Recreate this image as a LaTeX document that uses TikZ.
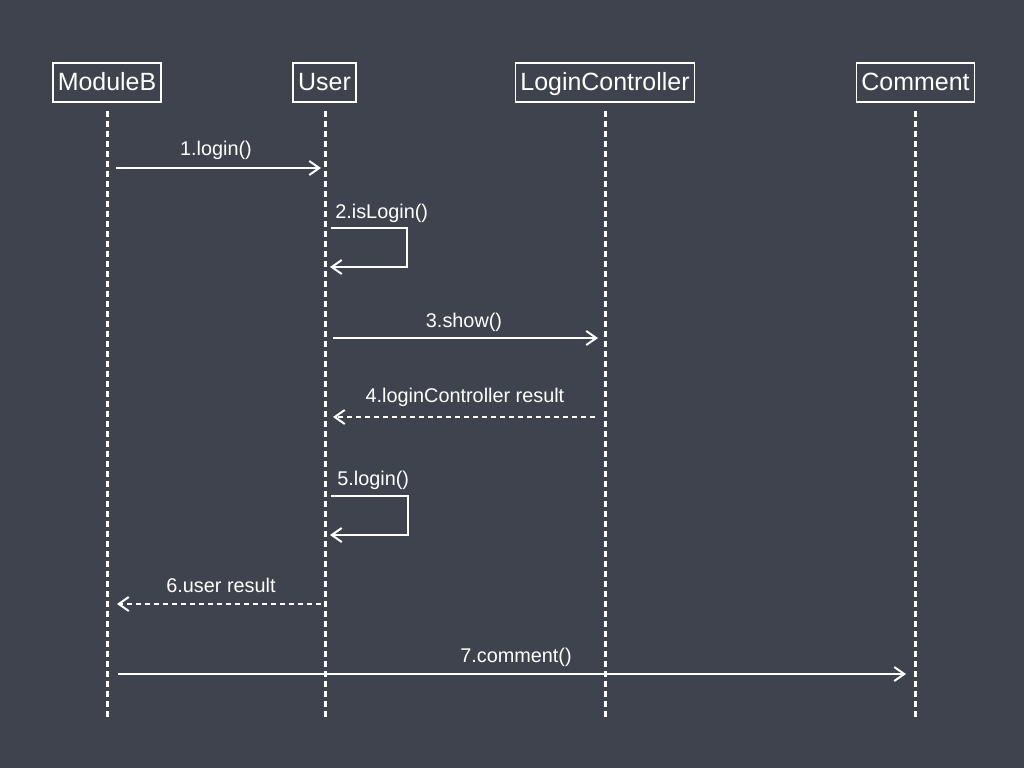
\documentclass[tikz,border=0pt]{standalone}
\usepackage{fontspec}
\setmainfont{Liberation Sans}
\usetikzlibrary{arrows.meta}
\definecolor{board}{RGB}{62,67,77}
\tikzset{
  head/.style={draw=white, line width=1.5*0.02cm, text=white, font=\fontsize{14.2}{16}\selectfont,
     minimum height=39*0.02cm, inner xsep=5*0.02cm, inner ysep=0pt, text height=0.9em, text depth=0pt},
  life/.style={draw=white, line width=3*0.02cm, dash pattern=on 6*0.02cm off 4*0.02cm},
  msg/.style={draw=white, line width=2*0.02cm, -{Straight Barb[length=10*0.02cm,width=14*0.02cm,line width=2*0.02cm]}},
  ret/.style={msg, dash pattern=on 5*0.02cm off 4*0.02cm},
  lbl/.style={text=white, font=\fontsize{11.3}{13}\selectfont, inner sep=0pt, text height=0.8em, text depth=0pt}
}
\begin{document}
\begin{tikzpicture}[x=0.02cm,y=-0.02cm]
\fill[board] (0,0) rectangle (1024,768);
\useasboundingbox (0,0) rectangle (1024,768);

% headers
\node[head] (mb) at (107,82.5) {ModuleB};
\node[head] (us) at (324.5,82.5) {User};
\node[head] (lc) at (605,82.5) {LoginController};
\node[head] (cm) at (915.5,82.5) {Comment};

% lifelines
\coordinate (mbt) at (107,111); \coordinate (mbb) at (107,718);
\coordinate (ust) at (325,111); \coordinate (usb) at (325,718);
\coordinate (lct) at (605,111); \coordinate (lcb) at (605,718);
\coordinate (cmt) at (915,111); \coordinate (cmb) at (915,718);
\draw[life] (mbt) -- (mbb);
\draw[life] (ust) -- (usb);
\draw[life] (lct) -- (lcb);
\draw[life] (cmt) -- (cmb);

% 1
\coordinate (m1a) at (116,168); \coordinate (m1b) at (321,168);
\draw[msg] (m1a) -- (m1b);
\node[lbl] (l1) at (216,148) {1.login()};

% 2
\coordinate (m2a) at (331,228); \coordinate (m2b) at (330,267);
\draw[msg] (m2a) -- (407,228) -- (407,267) -- (m2b);
\node[lbl, anchor=west] (l2) at (335,211) {2.isLogin()};

% 3
\coordinate (m3a) at (333,338); \coordinate (m3b) at (598,338);
\draw[msg] (m3a) -- (m3b);
\node[lbl] (l3) at (464,320) {3.show()};

% 4
\coordinate (m4a) at (595,417); \coordinate (m4b) at (333,417);
\draw[ret] (m4a) -- (m4b);
\node[lbl] (l4) at (465,395) {4.loginController result};

% 5
\coordinate (m5a) at (331,496); \coordinate (m5b) at (330,535);
\draw[msg] (m5a) -- (408,496) -- (408,535) -- (m5b);
\node[lbl, anchor=west] (l5) at (337,478) {5.login()};

% 6
\coordinate (m6a) at (321,604); \coordinate (m6b) at (117,604);
\draw[ret] (m6a) -- (m6b);
\node[lbl] (l6) at (221,585) {6.user result};

% 7
\coordinate (m7a) at (118,674); \coordinate (m7b) at (906,674);
\draw[msg] (m7a) -- (m7b);
\node[lbl] (l7) at (516,655) {7.comment()};
\end{tikzpicture}
\end{document}
